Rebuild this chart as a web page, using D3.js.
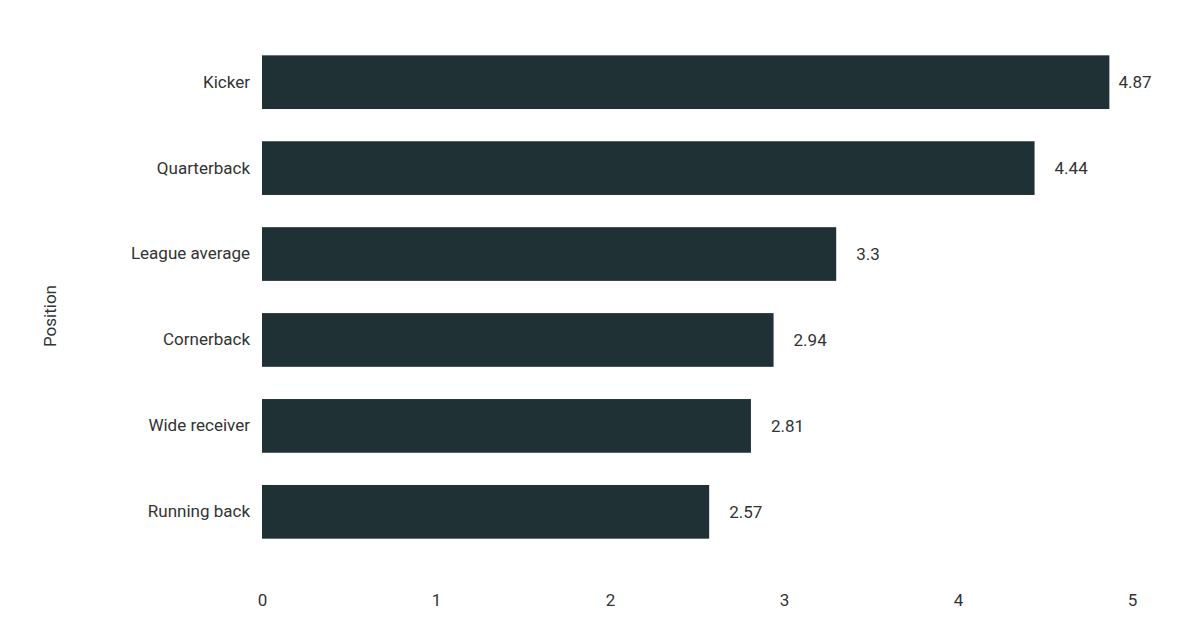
<!DOCTYPE html>
<html>
<head>
<meta charset="utf-8">
<script src="https://cdn.jsdelivr.net/npm/d3@7"></script>
<style>
  body { margin: 0; background: #fff; }
  text { font-family: Roboto, sans-serif; fill: #333; }
</style>
</head>
<body>
<svg id="chart" width="1196" height="628"></svg>
<script>
// data
const positions = ["Kicker", "Quarterback", "League average", "Cornerback", "Wide receiver", "Running back"];
const values = [4.87, 4.44, 3.3, 2.94, 2.81, 2.57];
const xTicks = [0, 1, 2, 3, 4, 5];

const BAR = "#1f3135";
const svg = d3.select("#chart");
const rows = positions.map((p, i) => ({ name: p, value: values[i] }));

const x = d3.scaleLinear().domain([0, 5]).range([262, 1132]);
const y = d3.scaleBand().domain(positions).range([39, 555]).paddingInner(0.375).paddingOuter(0.19);

svg.selectAll("rect.bar")
  .data(rows)
  .join("rect")
  .attr("class", "bar")
  .attr("x", x(0))
  .attr("y", d => y(d.name))
  .attr("width", d => x(d.value) - x(0))
  .attr("height", y.bandwidth())
  .attr("fill", BAR);

// value labels
svg.selectAll("text.val")
  .data(rows)
  .join("text")
  .attr("class", "val")
  .attr("x", d => x(d.value) + (d.value > 4.8 ? 9 : 20))
  .attr("y", d => y(d.name) + y.bandwidth() / 2)
  .attr("dy", "0.35em")
  .style("font-size", "17px")
  .text(d => d.value);

// y axis (labels only)
const yAxis = svg.append("g")
  .attr("transform", `translate(${x(0) - 2},0)`)
  .call(d3.axisLeft(y).tickSize(0).tickPadding(10));
yAxis.select(".domain").remove();
yAxis.selectAll("text").style("font-size", "17px").style("font-family", "Roboto, sans-serif").attr("fill", "#333");

// x axis (labels only)
const xAxis = svg.append("g")
  .attr("transform", "translate(0,582)")
  .call(d3.axisBottom(x).tickValues(xTicks).tickSize(0).tickPadding(12).tickFormat(d3.format("d")));
xAxis.select(".domain").remove();
xAxis.selectAll("text").style("font-size", "17px").style("font-family", "Roboto, sans-serif").attr("fill", "#333");

// axis title
svg.append("text")
  .attr("transform", "translate(56,316) rotate(-90)")
  .attr("text-anchor", "middle")
  .style("font-size", "17px")
  .text("Position");
</script>
</body>
</html>
